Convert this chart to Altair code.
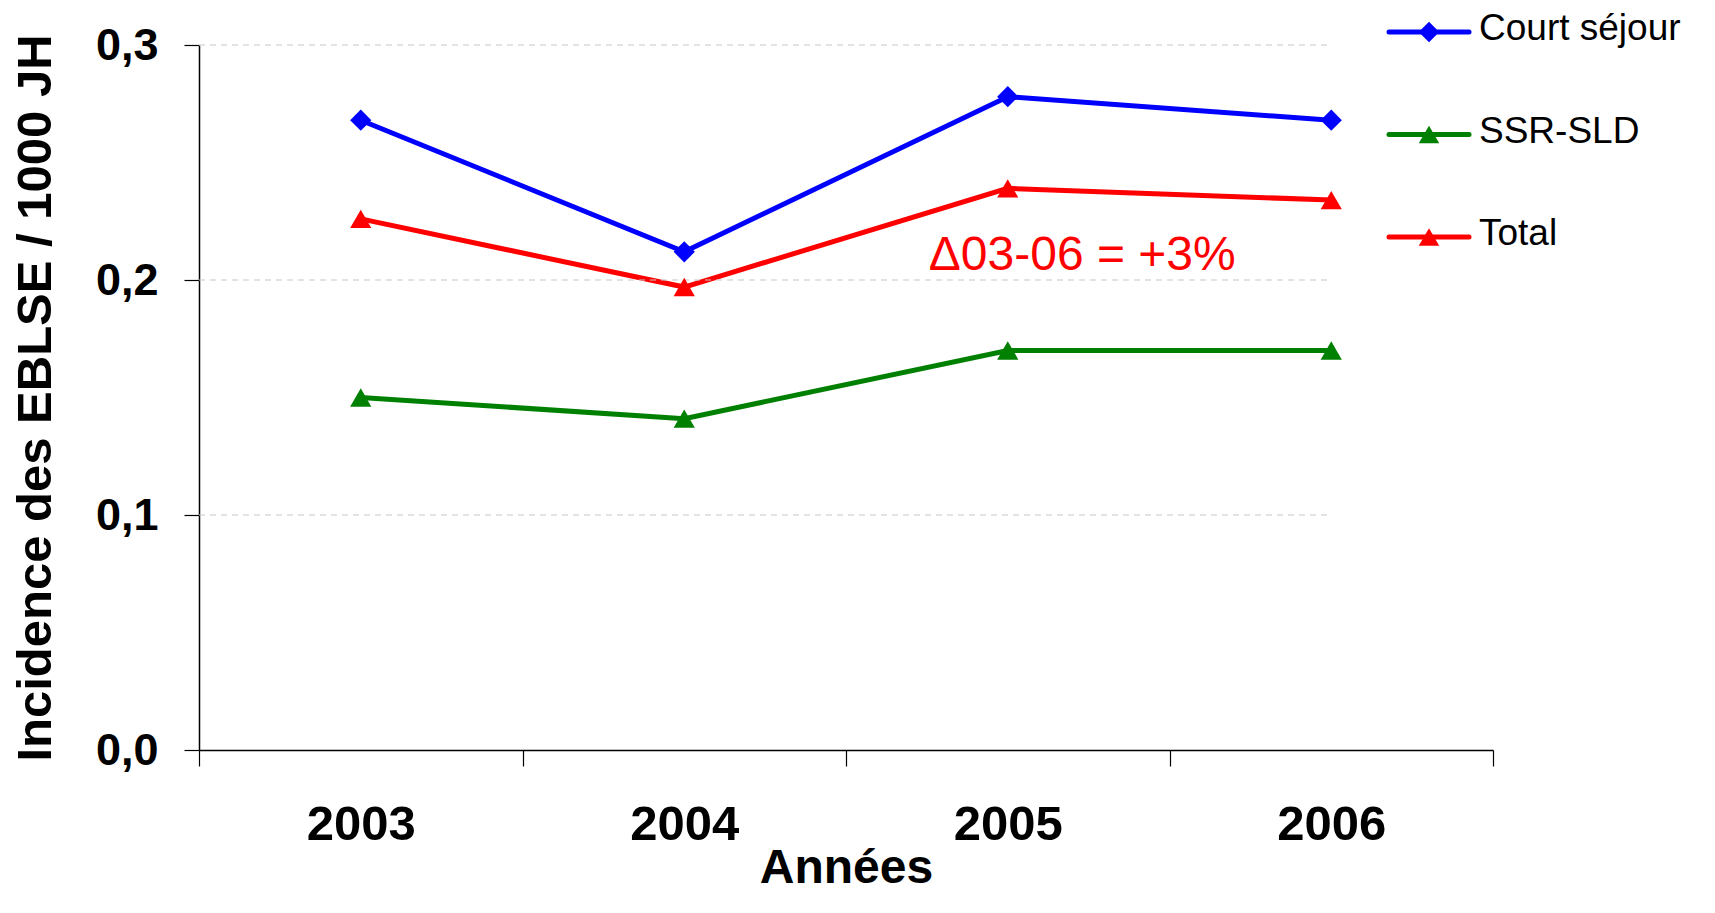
import altair as alt
import pandas as pd

# ---- data ----
years = ["2003", "2004", "2005", "2006"]
series_names = ["Court séjour", "SSR-SLD", "Total"]
court_sejour = [0.268, 0.212, 0.278, 0.268]
ssr_sld = [0.150, 0.141, 0.170, 0.170]
total = [0.226, 0.197, 0.239, 0.234]
y_ticks = [0.0, 0.1, 0.2, 0.3]
grid_values = [0.1, 0.2, 0.3]
annotation_text = "Δ03-06 = +3%"
annotation_year = "2005"
annotation_value = 0.2043

colors = ["#0000FF", "#008000", "#FF0000"]
shapes = ["diamond", "triangle-up", "triangle-up"]

FONT = "Arial, Liberation Sans, sans-serif"
W, H = 1294, 705

rows = []
for name, vals in zip(series_names, [court_sejour, ssr_sld, total]):
    for yr, v in zip(years, vals):
        rows.append({"year": yr, "value": v, "series": name})
df = pd.DataFrame(rows)

color_scale = alt.Scale(domain=series_names, range=colors)
shape_scale = alt.Scale(domain=series_names, range=shapes)
x_scale = alt.Scale(domain=years, paddingInner=0, paddingOuter=0)
y_scale = alt.Scale(domain=[0, 0.3], nice=False, zero=True)

x_axis = alt.Axis(
    title="Années", labelAngle=0, labelFont=FONT, labelFontSize=49,
    labelFontWeight="bold", labelColor="black", labelPadding=34,
    tickSize=16, tickColor="black", tickWidth=1.2, tickBand="extent",
    domainColor="black", domainWidth=1.5, grid=False,
    titleFont=FONT, titleFontSize=48, titleFontWeight="bold", titleColor="black",
    titleY=132, titleBaseline="alphabetic",
)
y_axis = alt.Axis(
    title="Incidence des EBLSE / 1000 JH", values=y_ticks,
    labelExpr="replace(format(datum.value, '.1f'), '.', ',')",
    labelFont=FONT, labelFontSize=45, labelFontWeight="bold", labelColor="black",
    labelPadding=26, tickSize=15, tickColor="black", tickWidth=1.2,
    domainColor="black", domainWidth=1.5, grid=False,
    titleFont=FONT, titleFontSize=49, titleFontWeight="bold", titleColor="black",
    titleX=-149, titleY=H / 2, titleBaseline="alphabetic", titleAngle=-90,
)

X = alt.X("year:N", scale=x_scale, sort=years)
Y = alt.Y("value:Q", scale=y_scale)

base = alt.Chart(df)
lines = base.mark_line(strokeWidth=5).encode(
    x=alt.X("year:N", scale=x_scale, axis=x_axis, sort=years),
    y=alt.Y("value:Q", scale=y_scale, axis=y_axis),
    color=alt.Color("series:N", scale=color_scale, legend=None),
    detail="series:N",
)

# gridlines (dashed, ending at the last category centre)
grid = alt.Chart(pd.DataFrame({"value": grid_values})).mark_rule(
    color="#C8C8C8", strokeWidth=1.2, strokeDash=[6, 5]
).encode(
    y=Y,
    x=alt.value(0),
    x2=alt.value(W * 3.5 / 4),
)

points = base.mark_point(filled=True, opacity=1, size=450).encode(
    x=X, y=Y,
    color=alt.Color("series:N", scale=color_scale, legend=None),
    shape=alt.Shape("series:N", scale=shape_scale, legend=None),
)

annot = alt.Chart(pd.DataFrame({"year": [annotation_year], "value": [annotation_value],
                                "label": [annotation_text]})).mark_text(
    align="left", baseline="alphabetic", dx=-79, font=FONT, fontSize=48, color="#FF0000"
).encode(x=X, y=Y, text="label:N")

# manual legend (line + marker + label), placed to the right of the plot
legend_layers = []
for i, (name, col, shp) in enumerate(zip(series_names, colors, shapes)):
    py = -13 + i * 102.5
    legend_layers.append(
        alt.Chart(pd.DataFrame({"series": [name]})).mark_rule(
            strokeWidth=5, strokeCap="round", color=col
        ).encode(x=alt.value(1190), x2=alt.value(1270), y=alt.value(py))
    )
    legend_layers.append(
        alt.Chart(pd.DataFrame({"series": [name]})).mark_point(
            filled=True, opacity=1, size=420, color=col, shape=shp
        ).encode(x=alt.value(1230), y=alt.value(py))
    )
    legend_layers.append(
        alt.Chart(pd.DataFrame({"series": [name]})).mark_text(
            align="left", baseline="alphabetic", font=FONT, fontSize=37, color="black"
        ).encode(x=alt.value(1280), y=alt.value(py + 8), text="series:N")
    )

chart = alt.layer(lines, grid, points, annot, *legend_layers).properties(
    width=W, height=H,
    padding={"left": 191, "top": 37, "right": 214, "bottom": 142},
    autosize=alt.AutoSizeParams(type="none"),
    background="white",
).configure_view(stroke=None)

chart.save("out.html", embed_options={"renderer": "svg", "actions": False})
